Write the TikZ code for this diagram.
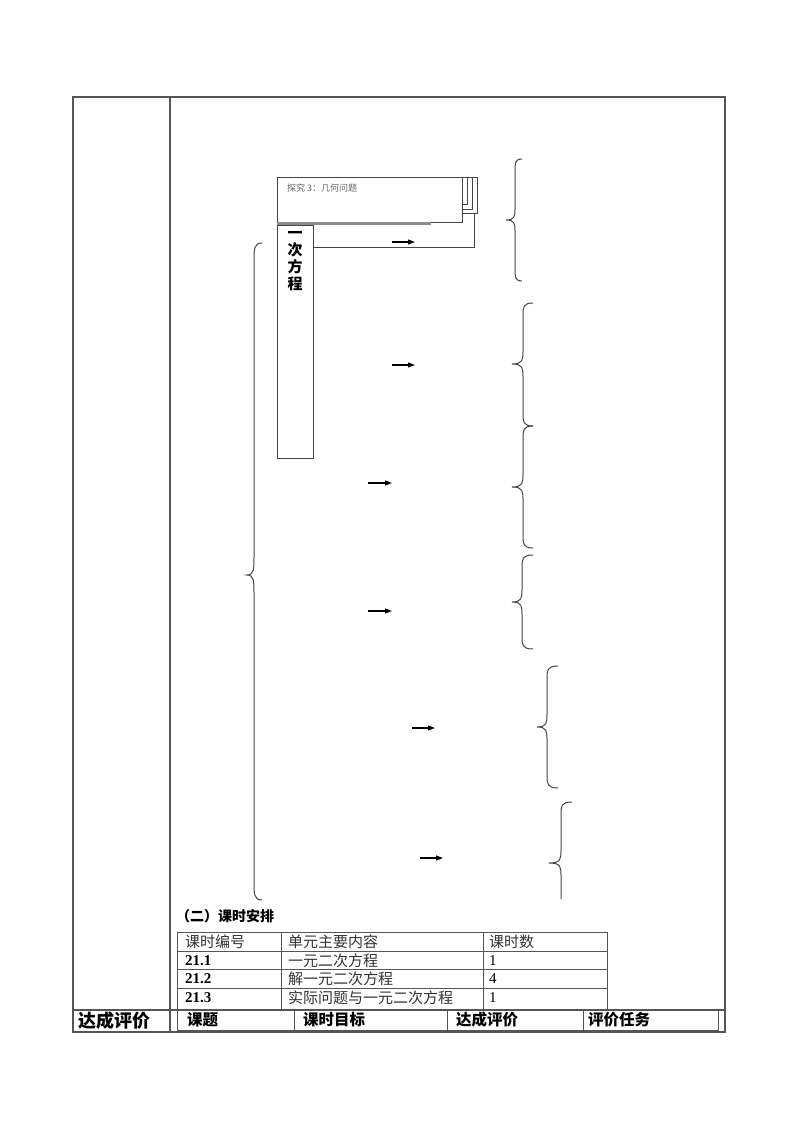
\documentclass[tikz,border=0pt]{standalone}
\usepackage{fontspec}
\setmainfont{Liberation Serif}
\newfontfamily\cjk{Noto Sans CJK SC}
\usetikzlibrary{arrows.meta}
\definecolor{tline}{HTML}{555555}
\definecolor{dline}{HTML}{444444}
\tikzset{
  x=1pt,y=-1pt,
  tbl/.style={draw=tline,line width=1.3pt},
  tblthin/.style={draw=tline,line width=0.9pt},
  dia/.style={draw=dline,line width=0.9pt},
  brc/.style={draw=dline,line width=1pt},
  arr/.style={draw=black,line width=1.1pt,-{Triangle[length=7pt,width=5pt]}},
  cell/.style={anchor=west,inner sep=0pt,font=\fontsize{15}{15}\selectfont\cjk,text=black!80},
  num/.style={anchor=west,inner sep=0pt,font=\fontsize{15}{15}\selectfont\bfseries},
  hdr/.style={anchor=west,inner sep=0pt,font=\fontsize{15.5}{15.5}\selectfont\cjk\bfseries},
}
\newcommand{\mybrace}[7]{% xe xl xt y1 yt y2 r
  \draw[brc] (#1,#4) .. controls (#2,#4) and (#2,#4+#7/3) .. (#2,#4+#7) -- (#2,#5-#7)
    .. controls (#2,#5-#7/3) and (#2,#5) .. (#3,#5) .. controls (#2,#5) and (#2,#5+#7/3) .. (#2,#5+#7)
    -- (#2,#6-#7) .. controls (#2,#6-#7/3) and (#2,#6) .. (#1,#6);}
\begin{document}
\begin{tikzpicture}
\useasboundingbox (0,0) rectangle (800,1132);
\fill[white] (0,0) rectangle (800,1132);
% outer table
\draw[tbl] (73,97) rectangle (725,1032);
\draw[tbl] (170,97) -- (170,1032);
\draw[tbl] (73,1010) -- (725,1010);
\node[anchor=west,inner sep=0pt,font=\fontsize{18}{18}\selectfont\cjk\bfseries] (dcpj) at (78,1021) {达成评价};
% bottom sub-row
\draw[tblthin] (177,1010) rectangle (718,1030);
\foreach \x in {294,447,583} \draw[tblthin] (\x,1010) -- (\x,1030);
\node[hdr] (h1) at (187,1020) {课题};
\node[hdr] (h2) at (303,1020) {课时目标};
\node[hdr] (h3) at (456,1020) {达成评价};
\node[hdr] (h4) at (588,1020) {评价任务};
% schedule table
\node[anchor=west,inner sep=0pt,font=\fontsize{14}{14}\selectfont\cjk\bfseries] (sec) at (176,916) {（二）课时安排};
\draw[tblthin] (177,932) rectangle (607,1010);
\foreach \y in {951,969,988} \draw[tblthin] (177,\y) -- (607,\y);
\foreach \x in {281,483} \draw[tblthin] (\x,932) -- (\x,1010);
\node[cell] (c11) at (185,942) {课时编号};
\node[cell] (c12) at (288,942) {单元主要内容};
\node[cell] (c13) at (489,942) {课时数};
\node[num] (c21) at (185,960.5) {21.1};
\node[cell] (c22) at (288,960.5) {一元二次方程};
\node[anchor=west,inner sep=0pt,font=\fontsize{15}{15}\selectfont] (c23) at (489,960.5) {1};
\node[num] (c31) at (185,979) {21.2};
\node[cell] (c32) at (288,979) {解一元二次方程};
\node[anchor=west,inner sep=0pt,font=\fontsize{15}{15}\selectfont] (c33) at (489,979) {4};
\node[num] (c41) at (185,998) {21.3};
\node[cell] (c42) at (288,998) {实际问题与一元二次方程};
\node[anchor=west,inner sep=0pt,font=\fontsize{15}{15}\selectfont] (c43) at (489,998) {1};
% stacked boxes
\draw[dia,fill=white] (277,177) rectangle (477,213);
\draw[dia,fill=white] (277,177) rectangle (472,209);
\draw[dia,fill=white] (277,177) rectangle (467,204);
\draw[dia,fill=white] (277,177) rectangle (462,222);
\coordinate (dBot) at (474,213);
\draw[draw=black!45,line width=2.6pt] (277,223.5) -- (431,223.5);
\node[anchor=west,inner sep=0pt,text=black!60,font=\fontsize{9}{9}\selectfont\cjk] (tj) at (287,188) {探究 3：几何问题};
% vertical box
\draw[dia] (277,225) rectangle (313,458);
\node[inner sep=0pt,align=center,font=\fontsize{15}{17}\selectfont\cjk\bfseries] (yc) at (295,261) {一\\次\\方\\程};
\coordinate (vR) at (313,247);
\draw[dia] (vR) -- (dBot |- vR) -- (dBot);
% arrows
\foreach \n/\xa/\xb/\y in {a1/392/415/242, a2/392/415/365, a3/368/392/483, a4/368/392/611, a5/412/435/728, a6/420/443/858}{
  \coordinate (\n s) at (\xa,\y); \coordinate (\n e) at (\xb,\y);
  \draw[arr] (\n s) -- (\n e);
}
% braces
\mybrace{262}{254}{247}{243}{575}{900}{18}
\mybrace{522}{515}{506}{159}{220}{281}{12}
\mybrace{533}{523}{512}{303}{364}{426}{13}
\mybrace{533}{523}{512}{426}{487}{548}{13}
\mybrace{533}{522}{512}{555}{602}{649}{13}
\mybrace{558}{547}{537}{666}{727}{788}{13}
\draw[brc] (572,802) .. controls (561,802) and (561,806) .. (561,815) -- (561,850) .. controls (561,859) and (561,863) .. (549,863) .. controls (561,863) and (561,867) .. (561,876) -- (561,899);
\end{tikzpicture}
\end{document}
